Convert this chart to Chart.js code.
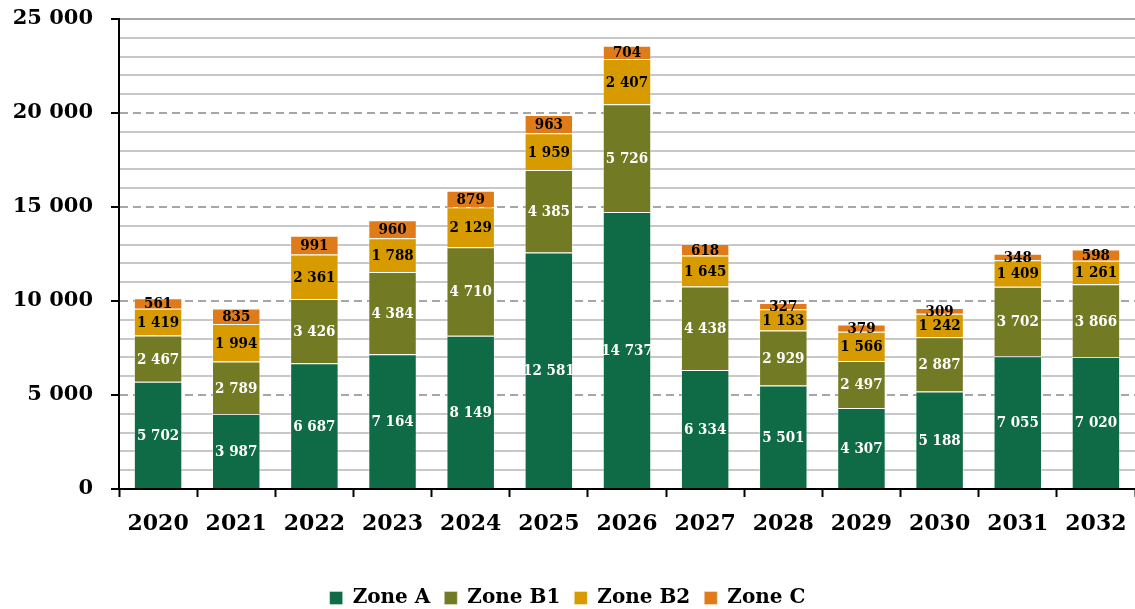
<!DOCTYPE html>
<html>
<head>
<meta charset="utf-8">
<script src="https://cdn.jsdelivr.net/npm/chart.js@4"></script>
<style>
  html, body { margin: 0; padding: 0; background: #fff; }
  #wrap { width: 1135px; height: 609px; }
</style>
</head>
<body>
<div id="wrap"><canvas id="myChart"></canvas></div>
<script>
const years = ["2020", "2021", "2022", "2023", "2024", "2025", "2026", "2027", "2028", "2029", "2030", "2031", "2032"];
const zoneA  = [5702, 3987, 6687, 7164, 8149, 12581, 14737, 6334, 5501, 4307, 5188, 7055, 7020];
const zoneB1 = [2467, 2789, 3426, 4384, 4710, 4385, 5726, 4438, 2929, 2497, 2887, 3702, 3866];
const zoneB2 = [1419, 1994, 2361, 1788, 2129, 1959, 2407, 1645, 1133, 1566, 1242, 1409, 1261];
const zoneC  = [561, 835, 991, 960, 879, 963, 704, 618, 327, 379, 309, 348, 598];

const FONT = "'DejaVu Serif', serif";
const LABEL_FONT = "'DejaVu Serif Condensed', 'DejaVu Serif', serif";
const fmt = v => String(v).replace(/\B(?=(\d{3})+(?!\d))/g, " ");

// draws the value in the middle of each segment
const segmentLabels = {
    id: "segmentLabels",
    afterDatasetsDraw(chart) {
        const ctx = chart.ctx;
        ctx.save();
        ctx.font = "bold 15px " + LABEL_FONT;
        ctx.textAlign = "center";
        ctx.textBaseline = "middle";
        chart.data.datasets.forEach((ds, i) => {
            const meta = chart.getDatasetMeta(i);
            meta.data.forEach((bar, j) => {
                const p = bar.getProps(["x", "y", "base"], true);
                ctx.fillStyle = ds.labelColor;
                ctx.fillText(fmt(ds.data[j]), p.x, (p.y + p.base) / 2 + 1);
            });
        });
        ctx.restore();
    }
};

window.onload = () => {
    const data = {
        labels: years,
        datasets: [
            { label: "Zone A",  data: zoneA,  backgroundColor: "#0e6b45", labelColor: "#ffffff" },
            { label: "Zone B1", data: zoneB1, backgroundColor: "#737a24", labelColor: "#ffffff" },
            { label: "Zone B2", data: zoneB2, backgroundColor: "#d79b00", labelColor: "#000000" },
            { label: "Zone C",  data: zoneC,  backgroundColor: "#e07b1a", labelColor: "#000000" },
        ].map(d => Object.assign(d, {
            borderColor: "rgba(255,255,255,0.35)",
            borderWidth: 1,
            barPercentage: 0.62,
            categoryPercentage: 1,
        })),
    };

    const config = {
        type: "bar",
        data: data,
        plugins: [segmentLabels],
        options: {
            responsive: true,
            maintainAspectRatio: false,
            animation: false,
            layout: { padding: { top: 19, right: 0, left: 0, bottom: -9 } },
            plugins: {
                tooltip: { enabled: false },
                legend: {
                    position: "bottom",
                    labels: {
                        boxWidth: 13,
                        boxHeight: 13,
                        padding: 14,
                        color: "#000",
                        font: { family: FONT, size: 20, weight: "bold" },
                    },
                },
            },
            scales: {
                x: {
                    stacked: true,
                    grid: {
                        offset: true,
                        drawOnChartArea: false,
                        tickLength: 8,
                        tickColor: "#000",
                        tickWidth: 2,
                    },
                    border: { color: "#000", width: 2 },
                    ticks: {
                        color: "#000",
                        padding: 14,
                        maxRotation: 0,
                        font: { family: FONT, size: 22, weight: "bold" },
                    },
                    afterFit: s => { s.height = 85; s.paddingLeft = 0; s.paddingRight = 0; },
                },
                y: {
                    stacked: true,
                    min: 0,
                    max: 25000,
                    grid: {
                        color: c => (c.tick && c.tick.value % 5000 === 0) ? "#a6a6a6" : "#c8c8c8",
                        lineWidth: 2,
                        tickLength: 8,
                        tickWidth: 2,
                        tickColor: c => (c.tick && c.tick.value % 5000 === 0) ? "#000" : "rgba(0,0,0,0)",
                    },
                    border: {
                        color: "#000",
                        width: 2,
                        dash: c => (c.tick && c.tick.value % 5000 === 0 && c.tick.value > 0 && c.tick.value < 25000) ? [8, 5] : [],
                    },
                    ticks: {
                        stepSize: 1000,
                        autoSkip: false,
                        color: "#000",
                        padding: 18,
                        font: { family: FONT, size: 21, weight: "bold" },
                        callback: v => v % 5000 === 0 ? fmt(v) : "",
                    },
                    afterFit: s => { s.width = 119; s.paddingTop = 0; s.paddingBottom = 0; },
                },
            },
        },
    };

    new Chart(document.getElementById("myChart"), config);
};
</script>
</body>
</html>
